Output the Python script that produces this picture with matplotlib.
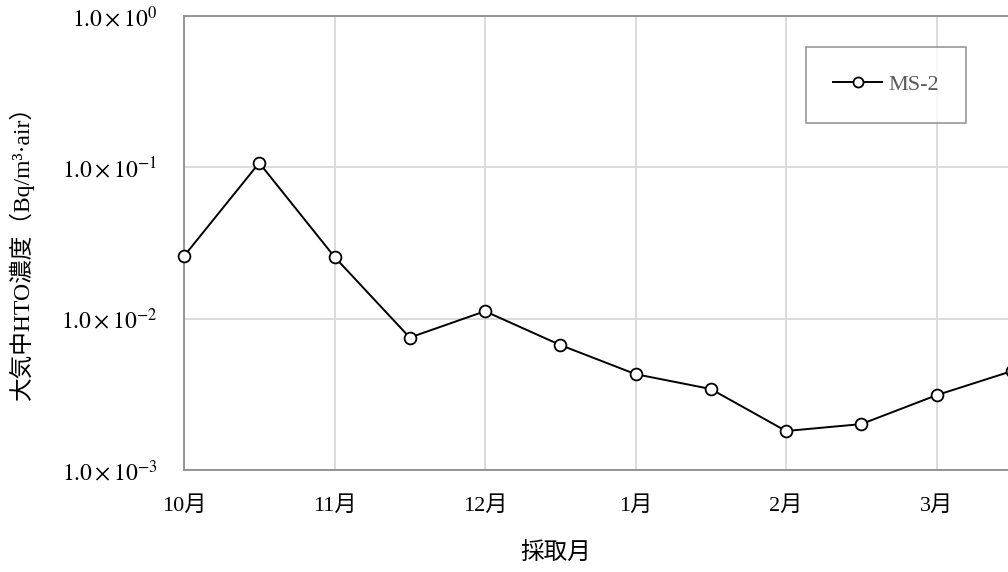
import matplotlib
matplotlib.use('Agg')
import matplotlib.pyplot as plt
import numpy as np

plt.rcParams['font.family'] = ['Liberation Serif', 'Noto Sans CJK JP']
plt.rcParams['mathtext.fontset'] = 'stix'

# 採取月 (0 = 10月, 0.5刻み)
meses = ['10月', '11月', '12月', '1月', '2月', '3月']
posicoes = [0, 0.5, 1, 1.5, 2, 2.5, 3, 3.5, 4, 4.5, 5, 5.5]
ms2 = [0.0259, 0.107, 0.0256, 0.0075, 0.0112, 0.0067,
       0.0043, 0.00343, 0.00181, 0.00201, 0.00312, 0.0045]
ticks_y = [1e-3, 1e-2, 1e-1, 1e0]
rotulos_y = [r'$1.0\times10^{-3}$', r'$1.0\times10^{-2}$',
             r'$1.0\times10^{-1}$', r'$1.0\times10^{0}$']

fig = plt.figure(figsize=(10.08, 5.72), dpi=100)
ax = fig.add_axes([184/1008, 102/572, 903/1008, 454/572])

ax.plot(posicoes, ms2, color='black', linewidth=1.4, marker='o',
        markersize=8.5, markerfacecolor='white', markeredgecolor='black',
        markeredgewidth=1.3, label='MS-2', clip_on=False, zorder=5)

ax.set_yscale('log')
ax.set_ylim(1e-3, 1e0)
ax.set_xlim(0, 6)
ax.set_yticks(ticks_y)
ax.set_yticklabels(rotulos_y, fontsize=17)
ax.yaxis.set_minor_locator(matplotlib.ticker.NullLocator())
ax.set_xticks(range(6))
ax.set_xticklabels(meses, fontsize=16)
# linha de grade do mês 4 (fora da figura)
ax.axvline(6, color='#d9d9d9', linewidth=1.3, zorder=0)
ax.tick_params(axis='both', length=0)
ax.tick_params(axis='x', pad=19)
ax.tick_params(axis='y', pad=19)

ax.grid(True, color='#d9d9d9', linewidth=1.3)
ax.set_axisbelow(True)
for lado in ['left', 'bottom', 'top']:
    ax.spines[lado].set_color('#8c8c8c')
    ax.spines[lado].set_linewidth(1.3)
ax.spines['right'].set_visible(False)

fig.text(556/1008, 1 - 554/572, '採取月', ha='center', va='center', fontsize=17)
fig.text(21/1008, 1 - 247/572, '大気中HTO濃度（Bq/m³·air）', ha='center', va='center',
         rotation=90, fontsize=17)

leg = ax.legend(loc='center', bbox_to_anchor=(886/1008, 1 - 85/572),
                bbox_transform=fig.transFigure, fancybox=False, frameon=True,
                borderpad=1.25, handlelength=2.2, handletextpad=0.25, fontsize=16,
                markerscale=0.85)
leg.get_frame().set_edgecolor('#7f7f7f')
leg.get_frame().set_linewidth(1.2)
for t in leg.get_texts():
    t.set_color('#595959')

plt.savefig('out.png', dpi=100)
